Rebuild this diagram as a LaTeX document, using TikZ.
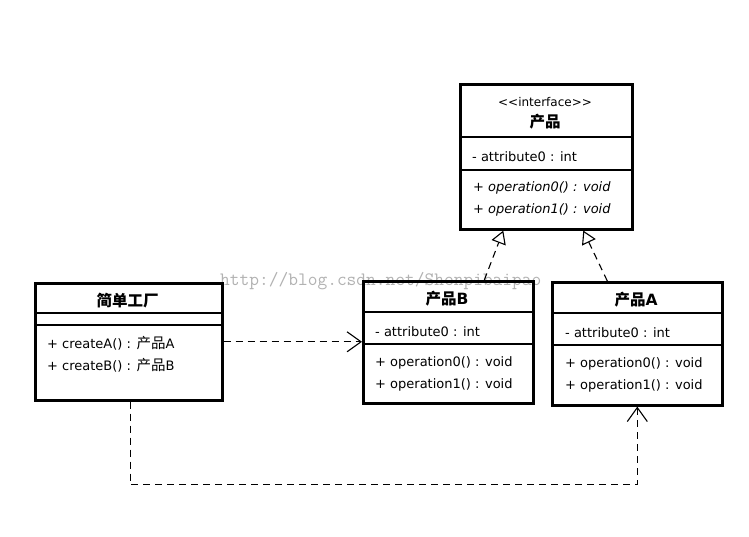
\documentclass[tikz,border=0pt]{standalone}
\usepackage{fontspec}
\setmainfont{DejaVu Sans}
\newfontfamily\cjk{Noto Sans CJK SC}
\usetikzlibrary{arrows.meta}
\newcommand{\memberfont}{\fontsize{13}{15}\selectfont}
\newcommand{\titlefont}{\fontsize{15.5}{18}\selectfont\bfseries}
\newcommand{\cn}[1]{{\cjk #1}}
\newcommand{\cnm}[1]{{\cjk\fontsize{14.5}{15}\selectfont #1}}
\tikzset{
  classbox/.style={draw, line width=2.6pt, inner sep=0pt, anchor=north west},
  divider/.style={line width=1.1pt},
  title/.style={font=\titlefont, anchor=base, inner sep=0pt},
  stereo/.style={font=\fontsize{12}{13}\selectfont, anchor=base, inner sep=0pt},
  member/.style={font=\memberfont, anchor=base west, inner sep=0pt},
  depline/.style={line width=1.1pt, dash pattern=on 7pt off 5pt, -{Straight Barb[length=14pt,width=20pt,line width=1.1pt]}},
  realline/.style={line width=1.1pt, dash pattern=on 7pt off 5pt, -{Triangle[open,length=13pt,width=15pt,line width=1.1pt,fill=white]}},
  watermark/.style={font=\ttfamily\fontsize{18.9}{20}\selectfont, text=black!30, anchor=base west, inner sep=0pt}
}

\begin{document}
\begin{tikzpicture}[x=1pt, y=-1pt]
\useasboundingbox (0,0) rectangle (749,537);
\fill[white] (0,0) rectangle (749,537);
\node[watermark] (mark) at (220,285) {http://blog.csdn.net/Shenpibaipao};

% interface
\node[classbox, minimum width=172pt, minimum height=145pt] (iface) at (459,83) {};
\foreach \y in {137,170}{\draw[divider] (iface.west |- 0,\y) -- (iface.east |- 0,\y);}
\node[stereo] (ifaceStereo) at (545,107) {<\kern0pt<interface>\kern0pt>};
\node[title] (ifaceName) at (545,128) {\cn{产品}};
\node[member] (ifaceAttr) at (472,162) {- attribute0 : int};
\node[member, font=\memberfont\itshape] (ifaceOp0) at (473,192) {+ operation0() : void};
\node[member, font=\memberfont\itshape] (ifaceOp1) at (473,214) {+ operation1() : void};

% factory
\node[classbox, minimum width=187pt, minimum height=117pt] (factory) at (34,282) {};
\foreach \y in {313,325}{\draw[divider] (factory.west |- 0,\y) -- (factory.east |- 0,\y);}
\node[title] (factoryName) at (127.5,306) {\cn{简单工厂}};
\node[member] (createA) at (47,348) {+ createA() : \cnm{产品}A};
\node[member] (createB) at (47,370) {+ createB() : \cnm{产品}B};

% products
\node[classbox, minimum width=170pt, minimum height=122pt] (prodB) at (362,280) {};
\node[classbox, minimum width=170pt, minimum height=123pt] (prodA) at (551,281) {};
\foreach \n/\a/\b in {prodB/312/344, prodA/313/345}{
  \draw[divider] (\n.west |- 0,\a) -- (\n.east |- 0,\a);
  \draw[divider] (\n.west |- 0,\b) -- (\n.east |- 0,\b);
}
\node[title] (prodBName) at (447,304) {\cn{产品}B};
\node[member] (prodBAttr) at (375,336) {- attribute0 : int};
\node[member] (prodBOp0) at (375,366) {+ operation0() : void};
\node[member] (prodBOp1) at (375,388) {+ operation1() : void};
\node[title] (prodAName) at (636,305) {\cn{产品}A};
\node[member] (prodAAttr) at (565,337) {- attribute0 : int};
\node[member] (prodAOp0) at (565,367) {+ operation0() : void};
\node[member] (prodAOp1) at (565,389) {+ operation1() : void};

% connectors
\draw[realline] ([xshift=36pt]prodB.north) -- ([xshift=-43pt]iface.south);
\draw[realline] ([xshift=-30pt]prodA.north) -- ([xshift=37pt]iface.south);
\draw[depline] (factory.east) -- (factory.east -| prodB.west);
\draw[depline] ([xshift=1.5pt]factory.south) -- ++(0,83) -| (prodA.south);
\end{tikzpicture}
\end{document}
